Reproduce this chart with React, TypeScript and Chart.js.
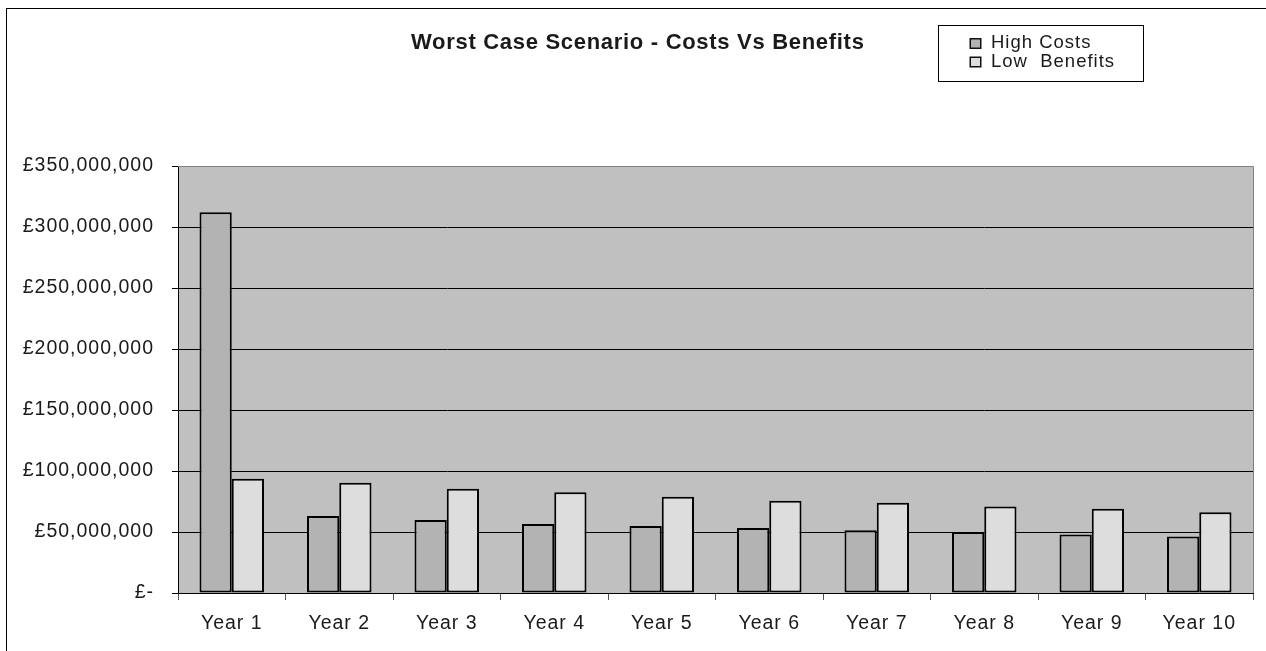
import React, { useEffect, useRef } from 'react';
import { Chart, registerables } from 'chart.js';

Chart.register(...registerables);

const categories = ['Year 1', 'Year 2', 'Year 3', 'Year 4', 'Year 5', 'Year 6', 'Year 7', 'Year 8', 'Year 9', 'Year 10'];
const highCosts = [312000000, 63100000, 59800000, 56600000, 54900000, 53300000, 51500000, 50000000, 48000000, 46400000];
const lowBenefits = [93600000, 90400000, 85500000, 82500000, 78900000, 75700000, 74000000, 71000000, 69100000, 66100000];
const seriesNames = ['High Costs', 'Low  Benefits'];
const seriesColors = ['#B3B3B3', '#DDDDDD'];
const yTickValues = [0, 50000000, 100000000, 150000000, 200000000, 250000000, 300000000, 350000000];
const titleText = 'Worst Case Scenario - Costs Vs Benefits';

const FONT = '"Liberation Sans", Arial, sans-serif';
const TEXT_COLOR = '#1a1a1a';

function formatPounds(v: number): string {
  if (v === 0) return '£-';
  return '£' + String(Math.round(v)).replace(/\B(?=(\d{3})+(?!\d))/g, ',');
}

const decorPlugin = {
  id: 'decor',
  beforeDraw(chart: any) {
    const { ctx, chartArea: a } = chart;
    ctx.save();
    ctx.fillStyle = '#ffffff';
    ctx.fillRect(0, 0, chart.width, chart.height);
    ctx.fillStyle = '#C0C0C0';
    ctx.fillRect(a.left, a.top, a.right - a.left, a.bottom - a.top);
    ctx.strokeStyle = '#000000';
    ctx.lineWidth = 1;
    ctx.strokeRect(6.5, 8.5, chart.width + 40, chart.height + 40);
    ctx.restore();
    ctx.letterSpacing = '1px';
  },
  beforeDatasetsDraw(chart: any) {
    const { ctx, chartArea: a } = chart;
    ctx.save();
    ctx.strokeStyle = '#808080';
    ctx.lineWidth = 1;
    ctx.beginPath();
    ctx.moveTo(a.left, Math.floor(a.top) + 0.5);
    ctx.lineTo(Math.floor(a.right) + 0.5, Math.floor(a.top) + 0.5);
    ctx.lineTo(Math.floor(a.right) + 0.5, a.bottom);
    ctx.stroke();
    ctx.restore();
  },
  afterDraw(chart: any) {
    const { ctx } = chart;
    ctx.save();
    // title
    ctx.fillStyle = TEXT_COLOR;
    ctx.font = 'bold 22px ' + FONT;
    ctx.letterSpacing = '0.7px';
    ctx.textAlign = 'left';
    ctx.textBaseline = 'alphabetic';
    ctx.fillText(titleText, 411, 49);

    // legend box
    ctx.letterSpacing = '1px';
    ctx.strokeStyle = '#000000';
    ctx.lineWidth = 1;
    ctx.strokeRect(938.5, 25.5, 205, 56);
    ctx.font = '18.5px ' + FONT;
    const ds = chart.data.datasets;
    for (let i = 0; i < ds.length; i++) {
      const baseY = 48 + i * 18.5;
      ctx.fillStyle = ds[i].backgroundColor;
      ctx.fillRect(970, baseY - 9.5, 11, 10);
      ctx.lineWidth = 1.5;
      ctx.strokeStyle = '#111111';
      ctx.strokeRect(970.25, baseY - 9.25, 10.5, 9.5);
      ctx.fillStyle = TEXT_COLOR;
      ctx.fillText(ds[i].label, 991, baseY);
    }
    ctx.restore();
  },
};

export default function App() {
  const canvasRef = useRef<HTMLCanvasElement | null>(null);

  useEffect(() => {
    const canvas = canvasRef.current;
    if (!canvas) return;
    const chart = new Chart(canvas, {
      type: 'bar',
      data: {
        labels: categories,
        datasets: [
          {
            label: seriesNames[0],
            data: highCosts,
            backgroundColor: seriesColors[0],
            borderColor: '#000000',
            borderWidth: 2,
            borderSkipped: false,
            categoryPercentage: 0.6,
            barPercentage: 1,
          },
          {
            label: seriesNames[1],
            data: lowBenefits,
            backgroundColor: seriesColors[1],
            borderColor: '#000000',
            borderWidth: 2,
            borderSkipped: false,
            categoryPercentage: 0.6,
            barPercentage: 1,
          },
        ],
      },
      options: {
        responsive: false,
        animation: false,
        devicePixelRatio: 1,
        layout: { padding: { left: 0, top: 166, right: 13, bottom: 0 } },
        plugins: {
          legend: { display: false },
          title: { display: false },
          tooltip: { enabled: false },
        },
        scales: {
          x: {
            grid: {
              offset: true,
              drawOnChartArea: false,
              drawTicks: true,
              tickLength: 7,
              color: '#555555',
            },
            border: { display: true, color: '#000000', width: 1, z: 1 },
            ticks: {
              color: TEXT_COLOR,
              font: { family: FONT, size: 19.5 },
              padding: 12,
              maxRotation: 0,
              autoSkip: false,
            },
            afterFit: (scale: any) => {
              scale.height = 58;
            },
          },
          y: {
            min: 0,
            max: yTickValues[yTickValues.length - 1],
            afterBuildTicks: (scale: any) => {
              scale.ticks = yTickValues.map((v) => ({ value: v }));
            },
            grid: {
              color: (c: any) =>
                c.tick && (c.tick.value === 0 || c.tick.value === yTickValues[yTickValues.length - 1])
                  ? 'rgba(0,0,0,0)'
                  : '#000000',
              tickColor: '#000000',
              tickLength: 6,
              lineWidth: 1,
            },
            border: { display: true, color: '#000000', width: 1 },
            ticks: {
              color: TEXT_COLOR,
              font: { family: FONT, size: 19.5 },
              padding: 18,
              callback: (v: any) => formatPounds(Number(v)),
            },
            afterFit: (scale: any) => {
              scale.width = 178;
            },
          },
        },
      },
      plugins: [decorPlugin],
    });
    return () => {
      chart.destroy();
    };
  }, []);

  return (
    <div style={{ position: 'absolute', left: 0, top: 0, width: 1266, height: 651, background: '#fff' }}>
      <canvas ref={canvasRef} width={1266} height={651} style={{ display: 'block' }} />
    </div>
  );
}
